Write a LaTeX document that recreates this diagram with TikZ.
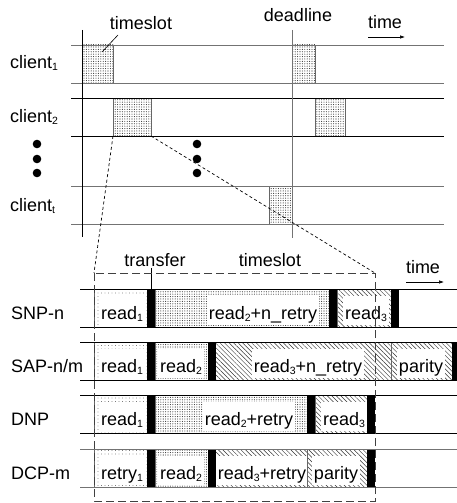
\documentclass[tikz,border=0pt]{standalone}
\usepackage{fontspec}
\setmainfont{Liberation Sans}
\usetikzlibrary{patterns.meta,arrows.meta}
\newcommand{\sbx}[1]{\raisebox{-0.3ex}{\fontsize{10.5}{11}\selectfont #1}}
\tikzset{
  lab/.style={font=\fontsize{18}{21}\selectfont, inner sep=0pt, anchor=base},
  sparse/.style={pattern={Dots[distance=3.5pt,radius=0.45pt]}, pattern color=black!80},
  dense/.style={pattern={Dots[distance=2.4pt,radius=0.55pt]}, pattern color=black!80},
  hatch/.style={pattern={Lines[angle=-45,distance=3.2pt,line width=0.45pt]}, pattern color=black!80},
  segline/.style={draw=black!60, line width=0.3pt},
  lbl/.style={lab, fill=white, inner xsep=2pt, inner ysep=0pt, text height=23pt, text depth=6pt},
  gline/.style={black!55, line width=0.8pt},
  kline/.style={black, line width=0.8pt},
  diag/.style={dash pattern=on 3pt off 2.5pt, line width=0.7pt},
  frame/.style={dash pattern=on 8pt off 4pt, line width=0.8pt, black!75},
  slotbox/.style={dense, draw=black!60, line width=0.5pt},
  tarrow/.style={-{Latex[length=5pt,width=3.5pt]}, line width=0.6pt}
}
\newcommand{\seg}[7]{%
  \filldraw[#1, segline] (#2,#4) rectangle (#3,#4+38);
  \node[lbl] (#5) at (#6,#4+30) {#7};}
\newcommand{\blackbar}[2]{\fill[black] (#1,#2) rectangle ++(8,38);}
\begin{document}
\begin{tikzpicture}[x=1pt,y=-1pt]
\useasboundingbox (0,0) rectangle (457,503);

% ---------- top chart ----------
\draw[slotbox] (82,45) rectangle (113,83);
\draw[slotbox] (292,45) rectangle (315,83);
\draw[slotbox] (113,98) rectangle (151,136);
\draw[slotbox] (315,98) rectangle (345,136);
\draw[slotbox] (269,186) rectangle (292,224);

\draw[gline] (71,45) -- (444,45);
\draw[gline] (71,83) -- (444,83);
\draw[kline] (71,98) -- (444,98);
\draw[kline] (71,136) -- (444,136);
\draw[gline] (71,186) -- (444,186);
\draw[gline] (71,224) -- (444,224);

\draw[kline] (82,30) -- (82,237);
\draw[gline] (292,30) -- (292,238);

\node[lab, anchor=base west] (c1) at (10,68) {client\sbx{1}};
\node[lab, anchor=base west] (c2) at (10,122) {client\sbx{2}};
\node[lab, anchor=base west] (ct) at (10,211) {client\sbx{t}};

\node[lab] (ts1) at (141,30) {timeslot};
\draw[line width=0.6pt] (118,35) -- (102,52);
\node[lab] (dl) at (298,22) {deadline};
\node[lab] (tm1) at (385,29) {time};
\coordinate (a1) at (368,37);
\coordinate (a2) at (405,37);
\draw[tarrow] (a1) -- (a2);

\foreach \yy in {144,159,173} {
  \fill (37,\yy) circle (4.3);
  \fill (197,\yy) circle (4.3);
}

% connectors to zoomed timeslot
\coordinate (bl) at (113,136);
\coordinate (br) at (151,136);
\coordinate (fl) at (94,273);
\coordinate (fr) at (375,273);
\draw[diag] (bl) -- (fl);
\draw[diag] (br) -- (fr);

% ---------- lower chart ----------
\node[lab] (tr) at (155,266) {transfer};
\draw[line width=0.6pt] (151,268) -- (151,289);
\node[lab] (ts2) at (270,266) {timeslot};
\node[lab] (tm2) at (423,273) {time};
\coordinate (b1) at (406,282);
\coordinate (b2) at (444,282);
\draw[tarrow] (b1) -- (b2);

% SNP-n
\seg{sparse}{94}{147}{289}{s1}{122}{read\sbx{1}}
\seg{dense}{155}{330}{289}{s2}{263}{read\sbx{2}+n\_retry}
\seg{hatch}{337}{391}{289}{s3}{366}{read\sbx{3}}
\blackbar{147}{289}\blackbar{329}{289}\blackbar{391}{289}

% SAP-n/m
\seg{sparse}{94}{147}{342}{p1}{122}{read\sbx{1}}
\seg{dense}{155}{208}{342}{p2}{181}{read\sbx{2}}
\seg{hatch}{215}{391}{342}{p3}{308}{read\sbx{3}+n\_retry}
\seg{hatch}{391}{452}{342}{p4}{421}{parity}
\blackbar{147}{342}\blackbar{208}{342}\blackbar{452}{342}

% DNP
\seg{sparse}{94}{147}{395}{d1}{122}{read\sbx{1}}
\seg{dense}{155}{307}{395}{d2}{249}{read\sbx{2}+retry}
\seg{hatch}{315}{367}{395}{d3}{344}{read\sbx{3}}
\blackbar{147}{395}\blackbar{307}{395}\blackbar{367}{395}

% DCP-m
\seg{sparse}{94}{147}{449}{q1}{122}{retry\sbx{1}}
\seg{dense}{155}{208}{449}{q2}{181}{read\sbx{2}}
\seg{hatch}{215}{307}{449}{q3}{262}{read\sbx{3}+retry}
\seg{hatch}{307}{367}{449}{q4}{336}{parity}
\blackbar{147}{449}\blackbar{208}{449}\blackbar{367}{449}

\foreach \t in {289,342,395} {
  \draw[kline] (80,\t) -- (457,\t);
  \draw[kline] (80,\t+38) -- (457,\t+38);
}
\draw[gline] (80,449) -- (457,449);
\draw[gline] (80,487) -- (457,487);

\node[lab, anchor=base west] (r1) at (11,319) {SNP-n};
\node[lab, anchor=base west] (r2) at (11,372) {SAP-n/m};
\node[lab, anchor=base west] (r3) at (11,425) {DNP};
\node[lab, anchor=base west] (r4) at (11,479) {DCP-m};

\draw[frame] (fl) rectangle (375,501);
\end{tikzpicture}
\end{document}
